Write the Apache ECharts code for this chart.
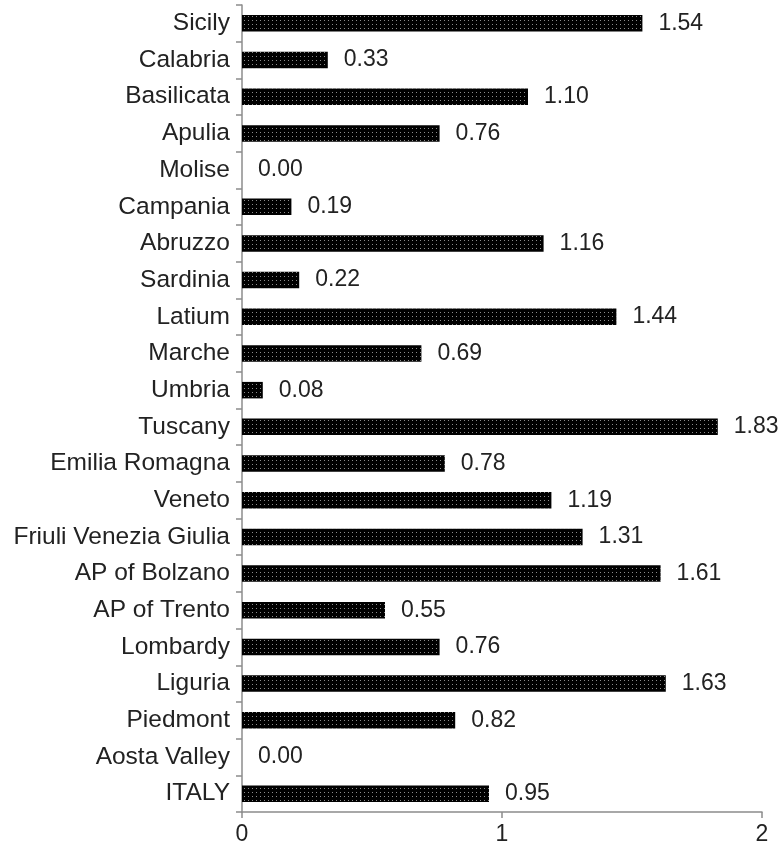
<!DOCTYPE html>
<html><head><meta charset="utf-8">
<script src="https://cdn.jsdelivr.net/npm/echarts@6/dist/echarts.min.js"></script>
<style>html,body{margin:0;padding:0;background:#fff}#c{width:783px;height:850px}</style>
</head><body><div id="c"></div>
<script>
const categories = ["ITALY","Aosta Valley","Piedmont","Liguria","Lombardy","AP of Trento","AP of Bolzano","Friuli Venezia Giulia","Veneto","Emilia Romagna","Tuscany","Umbria","Marche","Latium","Sardinia","Abruzzo","Campania","Molise","Apulia","Basilicata","Calabria","Sicily"];
const values = [0.95,0.00,0.82,1.63,0.76,0.55,1.61,1.31,1.19,0.78,1.83,0.08,0.69,1.44,0.22,1.16,0.19,0.00,0.76,1.10,0.33,1.54];
const xTicks = [0,1,2];

const chart = echarts.init(document.getElementById('c'), null, {renderer:'canvas'});
chart.setOption({
  animation:false,
  grid:{left:242, right:21, top:5, bottom:38, containLabel:false},
  xAxis:{type:'value', min:xTicks[0], max:xTicks[xTicks.length-1], interval:1,
    axisLine:{show:true, lineStyle:{color:'#8c8c8c', width:1.5}},
    axisTick:{show:true, length:6, lineStyle:{color:'#8c8c8c', width:1.5}},
    splitLine:{show:false},
    axisLabel:{fontFamily:'Liberation Sans, Arial', fontSize:23, color:'#222', margin:11}},
  yAxis:{type:'category', data:categories,
    axisLine:{show:true, lineStyle:{color:'#8c8c8c', width:1.5}},
    axisTick:{show:true, length:6, lineStyle:{color:'#8c8c8c', width:1.5}},
    axisLabel:{fontFamily:'Liberation Sans, Arial', fontSize:24.5, color:'#222', margin:12}},
  series:[{type:'bar', data:values, barWidth:'45%',
    itemStyle:{color:'#000', borderWidth:0,
      decal:{symbol:'rect', symbolSize:1, color:'rgba(255,255,255,0.55)', dashArrayX:[1,3], dashArrayY:[1,3]}},
    label:{show:true, position:'right', distance:16, fontFamily:'Liberation Sans, Arial', fontSize:23, color:'#222',
      formatter:p=>p.value.toFixed(2)}}]
});
</script></body></html>
